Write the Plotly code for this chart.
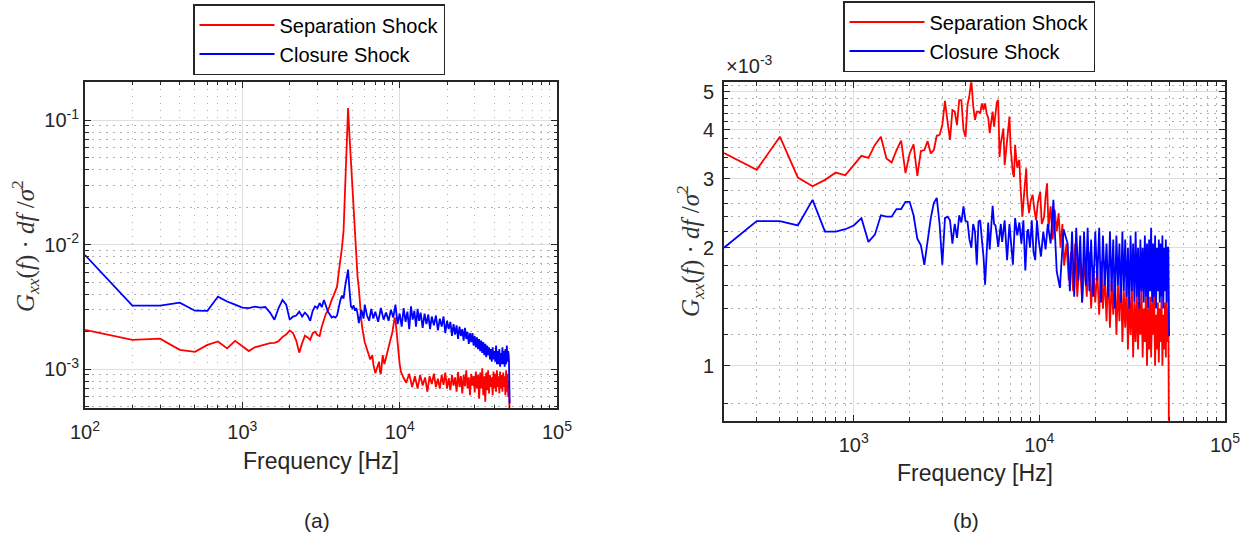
import plotly.graph_objects as go

# ---------------- data: panel (a) ----------------
FREQ_A_SEP = [100, 200, 300, 400, 500, 600, 700, 800, 900, 1000, 1100, 1200, 1300, 1400, 1500,
              1600, 1700, 1800, 1900, 2000, 2100, 2200, 2300, 2400, 2500, 2600, 2700, 2800, 2900,
              3000, 3100, 3200, 3300, 3400, 3500, 3600, 3700, 3800, 3900, 4000, 4100, 4200, 4300,
              4400, 4500, 4600, 4700, 4800, 4900, 5000, 5100, 5200, 5300, 5400, 5500, 5600, 5700,
              5800, 5900, 6000, 6200, 6400, 6500, 6700, 6800, 7000, 7200, 7400, 7500, 7600, 7800,
              8000, 8200, 8500, 8800, 9000, 9200, 9300, 9400, 9600, 9800, 10000, 10200, 10400,
              10600, 11000, 11500, 12000, 12500, 13000, 13500, 14000, 14500, 15000, 15500, 16000,
              16500, 17000, 17500, 18000, 18500, 19000, 19500, 20000, 20500, 21000, 21500, 22000,
              22500, 23000, 23500, 24000, 24500, 25000, 25500, 26000, 26500, 27000, 27500, 28000,
              28500, 29000, 29500, 30000, 30500, 31000, 31500, 32000, 32500, 33000, 33500, 34000,
              34500, 35000, 35500, 36000, 36500, 37000, 37500, 38000, 38500, 39000, 39500, 40000,
              40500, 41000, 41500, 42000, 42500, 43000, 43500, 44000, 44500, 45000, 45500, 46000,
              46500, 47000, 47500, 48000, 48500, 49000, 49500, 50000]
SEP_A = [2.07, 1.72, 1.76, 1.43, 1.38, 1.57, 1.67, 1.47, 1.69, 1.52, 1.40, 1.50, 1.55, 1.58, 1.62,
         1.63, 1.68, 1.82, 1.90, 2.05, 1.95, 1.70, 1.36, 1.62, 1.86, 1.80, 1.72, 1.95, 2.00,
         1.88, 1.85, 2.20, 2.55, 2.80, 2.95, 3.30, 3.60, 3.90, 4.20, 4.60, 6.0, 7.5, 9.5,
         13.0, 29.0, 60.0, 125.0, 74.0, 46.0, 29.6, 19.0, 12.2, 8.0, 5.5, 4.5, 3.0, 2.5,
         2.1, 1.85, 1.65, 1.45, 1.25, 1.20, 1.30, 1.10, 0.93, 1.05, 1.15, 0.95, 0.92, 1.30,
         1.10, 1.25, 1.50, 1.70, 2.00, 2.40, 2.60, 2.50, 1.80, 1.30, 1.10, 0.95, 0.88,
         0.85, 0.78, 0.92, 0.72, 0.88, 0.70, 0.90, 0.74, 0.86, 0.66, 0.88, 0.76,
         0.92, 0.72, 0.84, 0.70, 0.90, 0.75, 0.94, 0.70, 0.85, 0.68, 0.90, 0.74,
         0.86, 0.66, 0.95, 0.72, 0.88, 0.64, 0.90, 0.73, 0.98, 0.70, 0.86, 0.62,
         0.92, 0.74, 0.88, 0.65, 0.96, 0.70, 0.90, 0.58, 0.94, 0.70, 1.02, 0.62,
         0.88, 0.55, 0.94, 0.68, 0.98, 0.64, 0.90, 0.72, 0.86, 0.62, 0.96, 0.70,
         0.92, 0.66, 0.98, 0.72, 0.88, 0.64, 0.96, 0.70, 0.90, 0.66, 0.94, 0.72,
         0.88, 0.62, 0.98, 0.66, 0.92, 0.60, 0.80, 0.40]

FREQ_A_CLO = [100, 200, 300, 400, 500, 600, 700, 800, 900, 1000, 1100, 1200, 1300, 1400, 1500,
              1600, 1700, 1800, 1900, 2000, 2100, 2200, 2300, 2400, 2500, 2600, 2700, 2800, 2900,
              3000, 3100, 3200, 3300, 3400, 3500, 3600, 3700, 3800, 3900, 4000, 4100, 4200, 4300,
              4400, 4500, 4600, 4700, 4800, 4900, 5000, 5100, 5200, 5300, 5400, 5500, 5600, 5700,
              5800, 5900, 6000, 6200, 6400, 6600, 6800, 7000, 7300, 7600, 7900, 8200, 8500, 8800,
              9100, 9400, 9700, 10000, 10300, 10600, 10900, 11200, 11500, 11800, 12100, 12400,
              12700, 13000, 13300, 13600, 14000, 14400, 14800, 15200, 15600, 16000, 16500, 17000,
              17500, 18000, 18500, 19000, 19500, 20000, 20500, 21000, 21500, 22000, 22500, 23000,
              23500, 24000, 24500, 25000, 25500, 26000, 26500, 27000, 27500, 28000, 28500, 29000,
              29500, 30000, 30500, 31000, 31500, 32000, 32500, 33000, 33500, 34000, 34500, 35000,
              35500, 36000, 36500, 37000, 37500, 38000, 38500, 39000, 39500, 40000, 40500, 41000,
              41500, 42000, 42500, 43000, 43500, 44000, 44500, 45000, 45500, 46000, 46500, 47000,
              47500, 48000, 48500, 49000, 49500, 50000]
CLO_A = [8.26, 3.24, 3.24, 3.42, 2.95, 2.94, 3.83, 3.50, 3.30, 3.12, 3.10, 3.18, 3.12, 3.16, 2.85,
         2.50, 3.10, 3.60, 3.30, 2.50, 2.65, 2.70, 2.90, 2.65, 2.85, 2.70, 2.45, 2.95, 3.20,
         3.10, 3.40, 3.15, 3.60, 3.20, 2.90, 2.75, 2.60, 2.65, 2.60, 2.70, 3.20, 3.60, 3.90,
         3.70, 4.60, 5.60, 6.30, 4.30, 3.20, 3.10, 3.25, 2.95, 3.10, 2.80, 2.35, 2.60, 3.00,
         2.80, 2.55, 3.30, 2.70, 2.45, 3.05, 2.55, 2.90, 2.40, 3.10, 2.50, 2.85, 2.45, 3.00,
         2.60, 3.30, 2.30, 2.80, 2.20, 3.10, 2.40, 2.90, 2.10, 3.20, 2.50, 2.95,
         2.20, 3.05, 2.45, 2.85, 2.15, 2.80, 2.30, 2.75, 2.10, 2.65, 2.25, 2.70,
         2.05, 2.55, 2.20, 2.65, 1.95, 2.45, 2.10, 2.40, 1.85, 2.30, 1.90, 2.25,
         1.75, 2.20, 1.85, 2.10, 1.70, 2.15, 1.75, 2.00, 1.60, 1.95, 1.65, 1.95,
         1.55, 1.85, 1.50, 1.80, 1.45, 1.75, 1.40, 1.70, 1.35, 1.65, 1.30, 1.60,
         1.25, 1.55, 1.30, 1.50, 1.20, 1.45, 1.15, 1.50, 1.20, 1.40, 1.15, 1.55,
         1.10, 1.40, 1.10, 1.45, 1.05, 1.35, 1.10, 1.50, 1.10, 1.40, 1.05, 1.45,
         1.10, 1.55, 1.15, 1.40, 1.20, 0.53]

# ---------------- data: panel (b) ----------------
FREQ_B_SEP = [200, 300, 400, 500, 600, 700, 800, 900, 1000, 1100, 1200, 1300, 1400, 1500, 1600,
              1700, 1800, 1900, 2000, 2100, 2200, 2300, 2400, 2500, 2600, 2700, 2800, 2900, 3000,
              3100, 3200, 3300, 3400, 3500, 3600, 3700, 3800, 3900, 4000, 4100, 4200, 4300, 4400,
              4500, 4600, 4700, 4800, 4900, 5000, 5100, 5200, 5300, 5400, 5500, 5600, 5700, 5800,
              5900, 6000, 6100, 6200, 6300, 6400, 6500, 6600, 6700, 6800, 6900, 7000, 7100, 7200,
              7300, 7400, 7500, 7600, 7700, 7800, 7900, 8000, 8100, 8300, 8500, 8600, 8800, 9000,
              9200, 9400, 9600, 9800, 10100, 10300, 10600, 10800, 11000, 11200, 11500, 11800,
              12100, 12400, 12700, 13000, 13300, 13600, 14000, 14400, 14800, 15200, 15600, 16000,
              16500, 17000, 17500, 18000, 18500, 19000, 19500, 20000, 20500, 21000, 21500, 22000,
              22500, 23000, 23500, 24000, 24500, 25000, 25500, 26000, 26500, 27000, 27500, 28000,
              28500, 29000, 29500, 30000, 30500, 31000, 31500, 32000, 32500, 33000, 33500, 34000,
              34500, 35000, 35500, 36000, 36500, 37000, 37500, 38000, 38500, 39000, 39500, 40000,
              40500, 41000, 41500, 42000, 42500, 43000, 43500, 44000, 44500, 45000, 45500, 46000,
              46500, 47000, 47500, 48000, 48500, 49000, 49500, 50000]
SEP_B = [3.49, 3.16, 3.84, 3.02, 2.87, 2.98, 3.11, 3.06, 3.25, 3.43, 3.39, 3.66, 3.84, 3.38, 3.30,
         3.55, 3.75, 3.10, 3.48, 3.67, 3.05, 3.53, 3.55, 3.74, 3.48, 3.55, 3.86, 3.88, 4.11,
         4.74, 4.20, 3.77, 4.49, 4.45, 4.11, 4.76, 4.76, 4.00, 3.83, 4.62, 4.90, 5.35, 4.60,
         4.24, 4.45, 4.45, 4.40, 4.67, 4.50, 4.67, 4.40, 4.30, 3.92, 4.20, 4.45, 4.07, 4.35,
         4.70, 4.76, 3.41, 3.70, 3.90, 4.03, 3.25, 3.50, 3.80, 4.10, 4.32, 3.60, 3.30, 3.10,
         3.03, 3.66, 3.40, 3.20, 3.30, 3.35, 2.90, 2.65, 2.40, 2.80, 3.19, 2.70, 2.45, 2.65,
         2.73, 2.50, 2.35, 2.60, 2.78, 2.30, 2.40, 2.70, 2.92, 2.25, 2.55, 2.10,
         2.50, 2.20, 2.45, 2.00, 2.30, 1.80, 2.05, 1.65, 1.95, 1.55, 2.05, 1.50,
         1.90, 1.45, 1.85, 1.50, 1.95, 1.40, 1.80, 1.45, 1.75, 1.35, 1.85, 1.40,
         1.70, 1.30, 1.75, 1.25, 1.65, 1.35, 1.70, 1.20, 1.60, 1.30, 1.75, 1.15,
         1.55, 1.25, 1.60, 1.10, 1.50, 1.20, 1.60, 1.05, 1.45, 1.15, 1.55, 1.10,
         1.45, 1.20, 1.60, 1.05, 1.40, 1.15, 1.55, 1.00, 1.40, 1.10, 1.50, 1.05,
         1.45, 1.20, 1.55, 1.00, 1.35, 1.10, 1.45, 1.02, 1.40, 1.15, 1.50, 1.00,
         1.35, 1.10, 1.45, 1.05, 1.55, 1.15, 1.40, 0.50]

FREQ_B_CLO = [200, 300, 400, 500, 600, 700, 800, 900, 1000, 1100, 1200, 1300, 1400, 1500, 1600,
              1700, 1800, 1900, 2000, 2100, 2200, 2300, 2400, 2500, 2600, 2700, 2800, 2900, 3000,
              3100, 3200, 3300, 3400, 3500, 3600, 3700, 3800, 3900, 4000, 4100, 4200, 4300, 4400,
              4500, 4600, 4700, 4800, 4900, 5000, 5100, 5200, 5300, 5400, 5500, 5600, 5700, 5800,
              5900, 6000, 6200, 6300, 6500, 6700, 6900, 7000, 7200, 7400, 7600, 7800, 8000, 8200,
              8400, 8600, 8700, 8900, 9100, 9300, 9500, 9700, 9900, 10200, 10500, 10800, 11100,
              11500, 11900, 12400, 12900, 13500, 14200, 14600, 15000, 15400, 15800, 16200, 16600,
              17000, 17400, 17800, 18200, 18600, 19000, 19500, 20000, 20500, 21000, 21500, 22000,
              22500, 23000, 23500, 24000, 24500, 25000, 25500, 26000, 26500, 27000, 27500, 28000,
              28500, 29000, 29500, 30000, 30500, 31000, 31500, 32000, 32500, 33000, 33500, 34000,
              34500, 35000, 35500, 36000, 36500, 37000, 37500, 38000, 38500, 39000, 39500, 40000,
              40500, 41000, 41500, 42000, 42500, 43000, 43500, 44000, 44500, 45000, 45500, 46000,
              46500, 47000, 47500, 48000, 48500, 49000, 49500, 50000]
CLO_B = [2.00, 2.34, 2.34, 2.28, 2.65, 2.20, 2.20, 2.23, 2.28, 2.38, 2.07, 2.16, 2.42, 2.40, 2.40,
         2.51, 2.51, 2.62, 2.62, 2.42, 2.11, 2.03, 1.81, 2.11, 2.38, 2.60, 2.68, 2.30, 1.81,
         2.38, 2.40, 2.35, 2.05, 2.30, 2.12, 2.42, 2.32, 2.55, 2.34, 2.33, 2.10, 2.00, 2.30,
         2.20, 1.81, 2.33, 2.35, 2.10, 1.90, 1.61, 1.95, 2.32, 1.98, 2.20, 2.56, 2.30, 2.28,
         2.15, 2.01, 2.30, 2.07, 2.35, 1.86, 2.30, 2.10, 1.81, 2.38, 2.15, 2.32, 2.05, 2.35,
         1.75, 2.20, 2.23, 2.00, 2.35, 1.95, 1.86, 2.35, 2.10, 1.90, 2.20, 1.98, 2.30,
         2.05, 2.65, 1.74, 1.58, 2.23, 2.05, 1.55, 2.20, 1.50, 2.25, 1.65, 2.15,
         1.45, 2.20, 1.60, 2.25, 1.55, 2.10, 1.50, 2.20, 1.65, 2.25, 1.45, 2.15,
         1.60, 2.05, 1.50, 2.20, 1.55, 2.10, 1.40, 2.15, 1.60, 2.05, 1.45, 2.20,
         1.55, 2.10, 1.50, 2.00, 1.40, 2.15, 1.55, 2.05, 1.45, 2.20, 1.50, 2.00,
         1.40, 2.10, 1.55, 2.00, 1.45, 2.15, 1.50, 2.05, 1.40, 2.10, 1.55, 2.25,
         1.45, 2.05, 1.50, 2.15, 1.40, 2.00, 1.55, 2.10, 1.45, 2.05, 1.50, 2.15,
         1.40, 2.00, 1.55, 2.10, 1.45, 2.00, 2.00, 1.19]

SERIES_NAMES = ["Separation Shock", "Closure Shock"]
SERIES_COLORS = ["#FF0000", "#0000FF"]
X_TICKS = [100, 1000, 10000, 100000]
X_TICKTEXT = ["10<sup>2</sup>", "10<sup>3</sup>", "10<sup>4</sup>", "10<sup>5</sup>"]
YA_TICKS = [1e-3, 1e-2, 1e-1]
YA_TICKTEXT = ["10<sup>-3</sup>", "10<sup>-2</sup>", "10<sup>-1</sup>"]
YB_TICKS = [1e-3, 2e-3, 3e-3, 4e-3, 5e-3]
YB_TICKTEXT = ["1", "2", "3", "4", "5"]
YB_MINOR = [0.8e-3, 1.2e-3, 1.4e-3, 1.6e-3, 1.8e-3, 2.2e-3, 2.4e-3, 2.6e-3, 2.8e-3,
            3.2e-3, 3.4e-3, 3.6e-3, 3.8e-3, 4.2e-3, 4.4e-3, 4.6e-3, 4.8e-3, 5.2e-3]

W, H = 1252, 542
INK = "#262626"
FONT = "Liberation Sans, Arial, sans-serif"
SERIF = "Liberation Serif, DejaVu Serif, serif"

def px_x(p):
    return p / W

def px_y(p):
    return 1 - p / H

fig = go.Figure()

scale = 1e-3
panels = [("x", "y", "legend", [(FREQ_A_SEP, SEP_A), (FREQ_A_CLO, CLO_A)]),
          ("x2", "y2", "legend2", [(FREQ_B_SEP, SEP_B), (FREQ_B_CLO, CLO_B)])]
for xa, ya, lg, series in panels:
    for i, (fx, fy) in enumerate(series):
        fig.add_trace(go.Scatter(x=fx, y=[v * scale for v in fy], mode="lines",
                                 name=SERIES_NAMES[i],
                                 line=dict(color=SERIES_COLORS[i], width=1.8),
                                 xaxis=xa, yaxis=ya, legend=lg))

common = dict(type="log", showline=True, linecolor=INK, linewidth=2, mirror="ticks",
              ticks="inside", ticklen=6, tickwidth=1.3, tickcolor=INK,
              showgrid=True, gridcolor="#dedede", gridwidth=1, zeroline=False,
              tickfont=dict(family=FONT, size=20, color=INK), automargin=False,
              tickmode="array")
minor_log = dict(ticks="inside", ticklen=3.5, tickwidth=1.1, tickcolor=INK,
                 showgrid=True, gridcolor="#b0b0b0", griddash="1.5px,5.5px", gridwidth=1.2)

fig.update_layout(
    width=W, height=H, autosize=False,
    margin=dict(l=0, r=0, t=0, b=0),
    paper_bgcolor="white", plot_bgcolor="white",
    xaxis=dict(**common, domain=[px_x(85), px_x(557)], range=[2, 5],
               tickvals=X_TICKS, ticktext=X_TICKTEXT, anchor="y", ticklabelstandoff=5,
               minor=dict(**minor_log, dtick="D1")),
    yaxis=dict(**common, domain=[px_y(408), px_y(81.7)], range=[-3.311, -0.692],
               tickvals=YA_TICKS, ticktext=YA_TICKTEXT, anchor="x",
               minor=dict(**minor_log, dtick="D1")),
    xaxis2=dict(**common, domain=[px_x(724), px_x(1225)], range=[2.301, 5],
                tickvals=X_TICKS, ticktext=X_TICKTEXT, anchor="y2", ticklabelstandoff=5,
                minor=dict(**minor_log, dtick="D1")),
    yaxis2=dict(**common, domain=[px_y(420.7), px_y(82.3)], range=[-3.140, -2.277],
                tickvals=YB_TICKS, ticktext=YB_TICKTEXT, anchor="x2", ticklabelstandoff=4,
                minor=dict(**minor_log, tickmode="array", tickvals=YB_MINOR)),
    legend=dict(x=px_x(193), y=px_y(4), xanchor="left", yanchor="top",
                bgcolor="white", bordercolor=INK, borderwidth=1.5,
                font=dict(family=FONT, size=20, color="#000000"), itemwidth=75,
                tracegroupgap=0),
    legend2=dict(x=px_x(843), y=px_y(1), xanchor="left", yanchor="top",
                 bgcolor="white", bordercolor=INK, borderwidth=1.5,
                 font=dict(family=FONT, size=20, color="#000000"), itemwidth=75,
                 tracegroupgap=0),
    showlegend=True,
)

ytitle = "<i>G</i><sub><i>xx</i></sub>(<i>f</i>) · <i>df</i> /<i>σ</i><sup>2</sup>"
annos = [
    dict(x=px_x(321), y=px_y(461), text="Frequency [Hz]", font=dict(size=23)),
    dict(x=px_x(974.5), y=px_y(473), text="Frequency [Hz]", font=dict(size=23)),
    dict(x=px_x(317), y=px_y(520), text="(a)", font=dict(size=21)),
    dict(x=px_x(966), y=px_y(520), text="(b)", font=dict(size=21)),
    dict(x=px_x(25), y=px_y(246), text=ytitle, textangle=-90,
         font=dict(size=25, family=SERIF, color="#333333")),
    dict(x=px_x(690), y=px_y(251), text=ytitle, textangle=-90,
         font=dict(size=25, family=SERIF, color="#333333")),
    dict(x=px_x(724), y=px_y(79), text="×10<sup>-3</sup>", xanchor="left", yanchor="bottom",
         font=dict(size=20)),
]
for a in annos:
    f = dict(family=FONT, color=INK)
    f.update(a.pop("font"))
    a.setdefault("xanchor", "center")
    a.setdefault("yanchor", "middle")
    fig.add_annotation(xref="paper", yref="paper", showarrow=False, font=f, **a)

fig.write_html("out.html")
